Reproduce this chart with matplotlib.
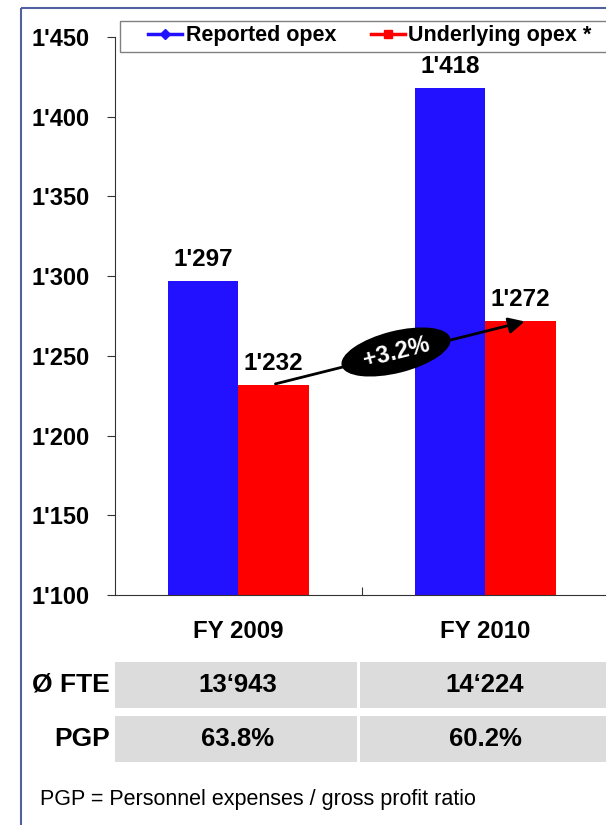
import numpy as np
import matplotlib.pyplot as plt
from matplotlib.patches import Ellipse, Rectangle, FancyArrowPatch
from matplotlib.lines import Line2D
from matplotlib.ticker import FuncFormatter
from matplotlib.transforms import Affine2D

plt.rcParams["font.family"] = ["Liberation Sans", "DejaVu Sans"]

# Data
categories = ["FY 2009", "FY 2010"]
reported_opex = [1297, 1418]
underlying_opex = [1232, 1272]
fte = ["13\u2018943", "14\u2018224"]
pgp = ["63.8%", "60.2%"]
growth_label = "+3.2%"

blue = "#2211ff"
red = "#ff0000"

W, H = 606, 825
fig = plt.figure(figsize=(W / 100, H / 100), dpi=100)
px = Affine2D().scale(1 / W, -1 / H).translate(0, 1) + fig.transFigure  # pixel coords, top-left origin


def fx(p):
    return p / W


def fy(p):
    return 1 - p / H


# outer frame
fig.patches.append(Rectangle((21, 8), 700, 900, transform=px, fill=False,
                             edgecolor="#5060a0", linewidth=1.5))

ax = fig.add_axes([fx(115), fy(595), fx(494), fy(37) - fy(595)])
x = np.arange(len(categories))
bw = 0.285
ax.bar(x - bw / 2, reported_opex, bw, color=blue)
ax.bar(x + bw / 2, underlying_opex, bw, color=red)
ax.set_xlim(-0.498, 1.5)
ax.set_ylim(1100, 1450)
ax.set_yticks(np.arange(1100, 1451, 50))
ax.yaxis.set_major_formatter(FuncFormatter(lambda v, p: f"{int(v) // 1000}'{int(v) % 1000:03d}"))
ax.set_xticks([0.5])
ax.set_xticklabels([])
ax.tick_params(axis="x", direction="in", length=6, color="#333333")
ax.tick_params(axis="y", direction="out", length=6, pad=12, labelsize=17, color="#333333")
for lab in ax.get_yticklabels():
    lab.set_fontweight("bold")
for s in ["top", "right"]:
    ax.spines[s].set_visible(False)
ax.spines["left"].set_color("#333333")
ax.spines["bottom"].set_color("#333333")

# value labels
for i in range(len(categories)):
    ax.text(x[i] - bw / 2, reported_opex[i] + 6, f"1'{reported_opex[i] % 1000:03d}",
            ha="center", va="bottom", fontsize=17.5, fontweight="bold")
    ax.text(x[i] + bw / 2, underlying_opex[i] + 6, f"1'{underlying_opex[i] % 1000:03d}",
            ha="center", va="bottom", fontsize=17.5, fontweight="bold")

# growth arrow
ax.add_patch(FancyArrowPatch((0.14, underlying_opex[0]), (1.17, underlying_opex[1]),
                             arrowstyle="-|>", mutation_scale=24, color="black", linewidth=2))
ang = np.degrees(np.arctan2(383 - 320, 522 - 272))
fig.patches.append(Ellipse((396, 352), 112, 42, angle=-ang, transform=px, facecolor="black"))
fig.text(fx(396), fy(352), growth_label, color="white", fontsize=17, fontweight="bold",
         ha="center", va="center", rotation=ang)

# legend
fig.patches.append(Rectangle((120, 21), 520, 31, transform=px, facecolor="white",
                             edgecolor="#808080", linewidth=1, zorder=3))
handles = [Line2D([], [], color=blue, lw=2.5, marker="D", markersize=5),
           Line2D([], [], color=red, lw=2.5, marker="s", markersize=6)]
leg = fig.legend(handles, ["Reported opex", "Underlying opex *"], ncol=2,
                 loc="center left", bbox_to_anchor=(fx(148), fy(36)),
                 frameon=False, fontsize=15.5, handlelength=1.6, handletextpad=0.15,
                 borderaxespad=0, borderpad=0, columnspacing=1.6)
leg.set_zorder(4)
for t in leg.get_texts():
    t.set_fontweight("bold")

# category labels
centers_px = [238, 485]
for c, cx in zip(categories, centers_px):
    fig.text(fx(cx), fy(632), c, ha="center", va="center", fontsize=17.3, fontweight="bold")

# table
rows = [("\u00d8 FTE", fte, 685), ("PGP", pgp, 739)]
col_edges = [(115, 357), (360, 606)]
for label, vals, yc in rows:
    fig.text(fx(110), fy(yc), label, ha="right", va="center", fontsize=19, fontweight="bold")
    for (x0, x1), v, cx in zip(col_edges, vals, centers_px):
        fig.patches.append(Rectangle((x0, yc - 23), x1 - x0, 46, transform=px,
                                     facecolor="#dcdcdc", edgecolor="none"))
        fig.text(fx(cx), fy(yc), v, ha="center", va="center", fontsize=18.5, fontweight="bold")

fig.text(fx(40), fy(800), "PGP = Personnel expenses / gross profit ratio", ha="left",
         va="center", fontsize=15.5)

fig.savefig("out.png", dpi=100)
